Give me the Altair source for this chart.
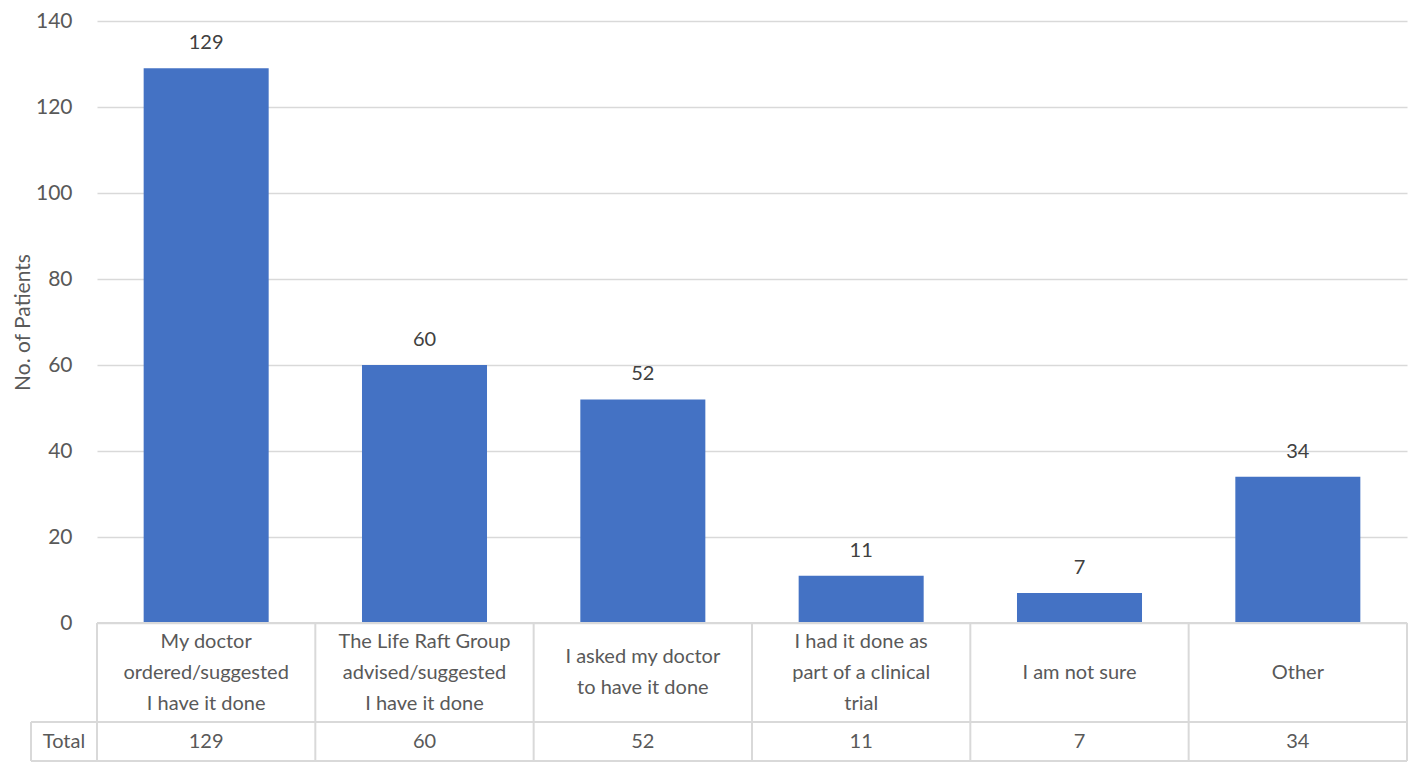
import altair as alt
import pandas as pd

# ---- data ----
categories = [
    "My doctor\nordered/suggested\nI have it done",
    "The Life Raft Group\nadvised/suggested\nI have it done",
    "I asked my doctor\nto have it done",
    "I had it done as\npart of a clinical\ntrial",
    "I am not sure",
    "Other",
]
patients = [129, 60, 52, 11, 7, 34]
row_header = ["Total"]
y_ticks = [0, 20, 40, 60, 80, 100, 120, 140]
y_title = "No. of Patients"

df = pd.DataFrame({"category": categories, "patients": patients})
one = pd.DataFrame({"label": row_header})

# ---- layout / style ----
W, H = 1310, 602
ROW1, ROW2 = 99, 39
LINE_H = 31
CELL_LEFT = -66
FONT = "Lato"
GRID = "#d9d9d9"
TXT = "#595959"
VAL = "#404040"
BAR = "#4472C4"

bar_scale = alt.Scale(domain=categories, paddingInner=0.4274, paddingOuter=0.2137)
tab_scale = alt.Scale(domain=categories, paddingInner=0, paddingOuter=0)

x_bar = alt.X("category:N", sort=categories, axis=None, scale=bar_scale)
x_tab = alt.X("category:N", sort=categories, axis=None, scale=tab_scale)
x_tab_edge = alt.X("category:N", sort=categories, axis=None, bandPosition=0,
                   scale=tab_scale)

y_enc = alt.Y(
    "patients:Q",
    scale=alt.Scale(domain=[0, 140], nice=False, zero=True),
    axis=alt.Axis(
        values=y_ticks, title=y_title, grid=True, gridColor=GRID, gridWidth=1.5,
        domain=False, ticks=False, labelPadding=25, labelFont=FONT,
        labelFontSize=21, labelColor=TXT, titleFont=FONT, titleFontSize=21,
        titleColor=TXT, titleFontWeight="normal", titleX=-74, titleY=H / 2,
        titleAngle=-90, titleAlign="center", titleBaseline="middle",
    ),
)

bars = alt.Chart(df).mark_bar(color=BAR).encode(x=x_bar, y=y_enc)

values = alt.Chart(df).mark_text(
    font=FONT, fontSize=20, color=VAL, baseline="middle", dy=-25
).encode(x=x_bar, y=alt.Y("patients:Q"), text="patients:Q")

line_style = dict(color=GRID, strokeWidth=2)

v_lines = alt.Chart(df).mark_rule(**line_style).encode(
    x=x_tab_edge, y=alt.value(H), y2=alt.value(H + ROW1 + ROW2)
)
right_edge = alt.Chart(one).mark_rule(**line_style).encode(
    x=alt.value(W), y=alt.value(H), y2=alt.value(H + ROW1 + ROW2)
)
left_edge = alt.Chart(one).mark_rule(**line_style).encode(
    x=alt.value(CELL_LEFT), y=alt.value(H + ROW1), y2=alt.value(H + ROW1 + ROW2)
)
h_top = alt.Chart(one).mark_rule(**line_style).encode(
    x=alt.value(0), x2=alt.value(W), y=alt.value(H)
)
h_mid = alt.Chart(one).mark_rule(**line_style).encode(
    x=alt.value(CELL_LEFT), x2=alt.value(W), y=alt.value(H + ROW1)
)
h_bot = alt.Chart(one).mark_rule(**line_style).encode(
    x=alt.value(CELL_LEFT), x2=alt.value(W), y=alt.value(H + ROW1 + ROW2)
)


def cat_layer(n_lines):
    return alt.Chart(df).transform_calculate(
        nl="length(split(datum.category, '\\n'))"
    ).transform_filter(
        alt.datum.nl == n_lines
    ).mark_text(
        font=FONT, fontSize=20, color=TXT, baseline="middle", align="center",
        lineBreak="\n", lineHeight=LINE_H, dy=-(n_lines - 1) * LINE_H / 2
    ).encode(x=x_tab, y=alt.value(H + ROW1 / 2), text="category:N")


tot_text = alt.Chart(df).mark_text(
    font=FONT, fontSize=20, color=TXT, baseline="middle", align="center"
).encode(x=x_tab, y=alt.value(H + ROW1 + ROW2 / 2), text="patients:Q")

hdr_text = alt.Chart(one).mark_text(
    font=FONT, fontSize=20, color=TXT, baseline="middle", align="center"
).encode(x=alt.value(CELL_LEFT / 2), y=alt.value(H + ROW1 + ROW2 / 2), text="label:N")

chart = alt.layer(
    bars, values, v_lines, right_edge, left_edge, h_top, h_mid, h_bot,
    cat_layer(1), cat_layer(2), cat_layer(3), tot_text, hdr_text
).resolve_scale(x="independent").properties(
    width=W, height=H,
    autosize=alt.AutoSizeParams(type="none"),
    padding={"left": 89, "top": 13, "right": 2, "bottom": 139},
    background="white",
).configure_view(stroke=None)

chart.save("out.html", embed_options={"renderer": "svg", "actions": False})
